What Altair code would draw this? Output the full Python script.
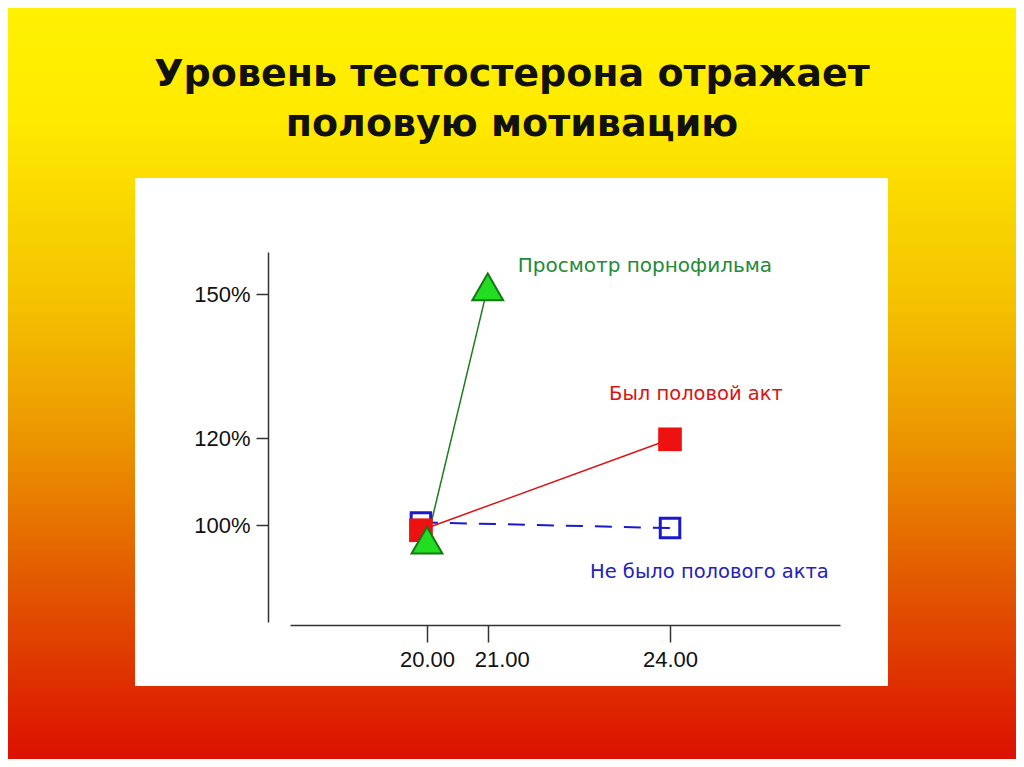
import pandas as pd
import altair as alt

# series values
series = ["Просмотр порнофильма", "Был половой акт", "Не было полового акта"]
porn_x = [20.0, 21.0]
porn_y = [96.5, 151.5]
sex_x = [19.9, 24.0]
sex_y = [98.8, 119.7]
nosex_x = [19.9, 24.0]
nosex_y = [100.6, 99.3]

x_ticks = [20, 21, 24]
y_ticks = [100, 120, 150]
title_lines = ["Уровень тестостерона отражает", "половую мотивацию"]

W, H = 550, 370          # plot area
OX, OY = 282, 244        # plot area offset inside the chart

df = pd.concat([
    pd.DataFrame({"s": series[0], "x": porn_x, "y": porn_y}),
    pd.DataFrame({"s": series[1], "x": sex_x, "y": sex_y}),
    pd.DataFrame({"s": series[2], "x": nosex_x, "y": nosex_y}),
])

xs = alt.Scale(domain=[17.745, 26.798], nice=False, zero=False)
ys = alt.Scale(domain=[77.7, 100, 120, 150, 158.75], range=[370, 273, 186, 42, 0],
               zero=False, nice=False)

X = alt.X("x:Q", scale=xs, axis=alt.Axis(
    values=x_ticks, format=".2f", title=None, grid=False, offset=3,
    domainColor="#333", tickColor="#333", domainWidth=1.5, tickWidth=1.5, tickSize=17,
    labelFont="Liberation Sans", labelFontSize=22, labelColor="#111", labelPadding=7,
    labelOffset=alt.condition("datum.value == 21", alt.value(14), alt.value(0)), zindex=1))
Y = alt.Y("y:Q", scale=ys, axis=alt.Axis(
    values=y_ticks, labelExpr="datum.value + '%'", title=None, grid=False, offset=22,
    domainColor="#333", tickColor="#333", domainWidth=1.5, tickWidth=1.5, tickSize=12,
    labelFont="Liberation Sans", labelFontSize=22, labelColor="#111", labelPadding=6, zindex=1))

bg = alt.Chart(pd.DataFrame({"a": [0]})).mark_rect(
    fill=alt.Gradient(gradient="linear", x1=0, y1=0, x2=0, y2=1, stops=[
        alt.GradientStop(offset=0, color="#fff100"),
        alt.GradientStop(offset=0.15, color="#ffea00"),
        alt.GradientStop(offset=0.4, color="#f4c000"),
        alt.GradientStop(offset=0.58, color="#ec9400"),
        alt.GradientStop(offset=0.78, color="#e25400"),
        alt.GradientStop(offset=1, color="#dc1000"),
    ])
).encode(x=alt.value(-OX), x2=alt.value(-OX + 1008), y=alt.value(-OY), y2=alt.value(-OY + 751))

panel = alt.Chart(pd.DataFrame({"a": [0]})).mark_rect(fill="white").encode(
    x=alt.value(135 - 8 - OX), x2=alt.value(888 - 8 - OX),
    y=alt.value(178 - 8 - OY), y2=alt.value(686 - 8 - OY))


def title_line(i, ypos):
    return alt.Chart(pd.DataFrame({"t": [title_lines[i]]})).mark_text(
        font="DejaVu Sans", fontWeight="bold", fontSize=38, color="#111", baseline="middle"
    ).encode(x=alt.value(512 - 8 - OX), y=alt.value(ypos - 8 - OY), text="t:N")


title1 = title_line(0, 75)
title2 = title_line(1, 125)

base = alt.Chart(df)

porn = base.transform_filter(alt.datum.s == series[0])
sex = base.transform_filter(alt.datum.s == series[1])
nosex = base.transform_filter(alt.datum.s == series[2])

nosex_line = nosex.mark_line(color="#1a1acc", strokeWidth=2, strokeDash=[17, 12]).encode(x=X, y=Y)
nosex_pts = nosex.mark_point(shape="square", size=380, filled=False, stroke="#1a1acc",
                             strokeWidth=3, opacity=1).encode(x=X, y=Y)
sex_line = sex.mark_line(color="#dd1111", strokeWidth=1.5).encode(x=X, y=Y)
sex_pts = sex.mark_point(shape="square", size=560, filled=True, color="#ee1111",
                         opacity=1).encode(x=X, y=Y)
porn_line = porn.mark_line(color="#1f7a1f", strokeWidth=1.5).encode(x=X, y=Y)
porn_pts = porn.mark_point(shape="triangle-up", size=950, filled=True, fill="#22dd22",
                           stroke="#127a12", strokeWidth=2, opacity=1).encode(x=X, y=Y)

font = "DejaVu Sans"
porn_lab = porn.transform_filter(alt.datum.x == 21).mark_text(
    text=series[0], align="left", baseline="middle", dx=30, dy=-21, font=font, fontSize=20,
    color="#238a3a").encode(x=X, y=Y)
sex_lab = sex.transform_filter(alt.datum.x == 24).mark_text(
    text=series[1], align="left", baseline="middle", dx=-61, dy=-45, font=font, fontSize=19.5,
    color="#dd1111").encode(x=X, y=Y)
nosex_lab = nosex.transform_filter(alt.datum.x == 24).mark_text(
    text=series[2], align="left", baseline="middle", dx=-80, dy=44, font=font, fontSize=19.5,
    color="#2222bb").encode(x=X, y=Y)

chart = alt.layer(
    bg, panel, title1, title2,
    nosex_line, sex_line, porn_line,
    nosex_pts, sex_pts, porn_pts,
    porn_lab, sex_lab, nosex_lab,
).properties(
    width=W, height=H, padding=0
).configure_view(stroke=None).configure(background="white")

chart.save("out.html", embed_options={"renderer": "svg", "actions": False})
